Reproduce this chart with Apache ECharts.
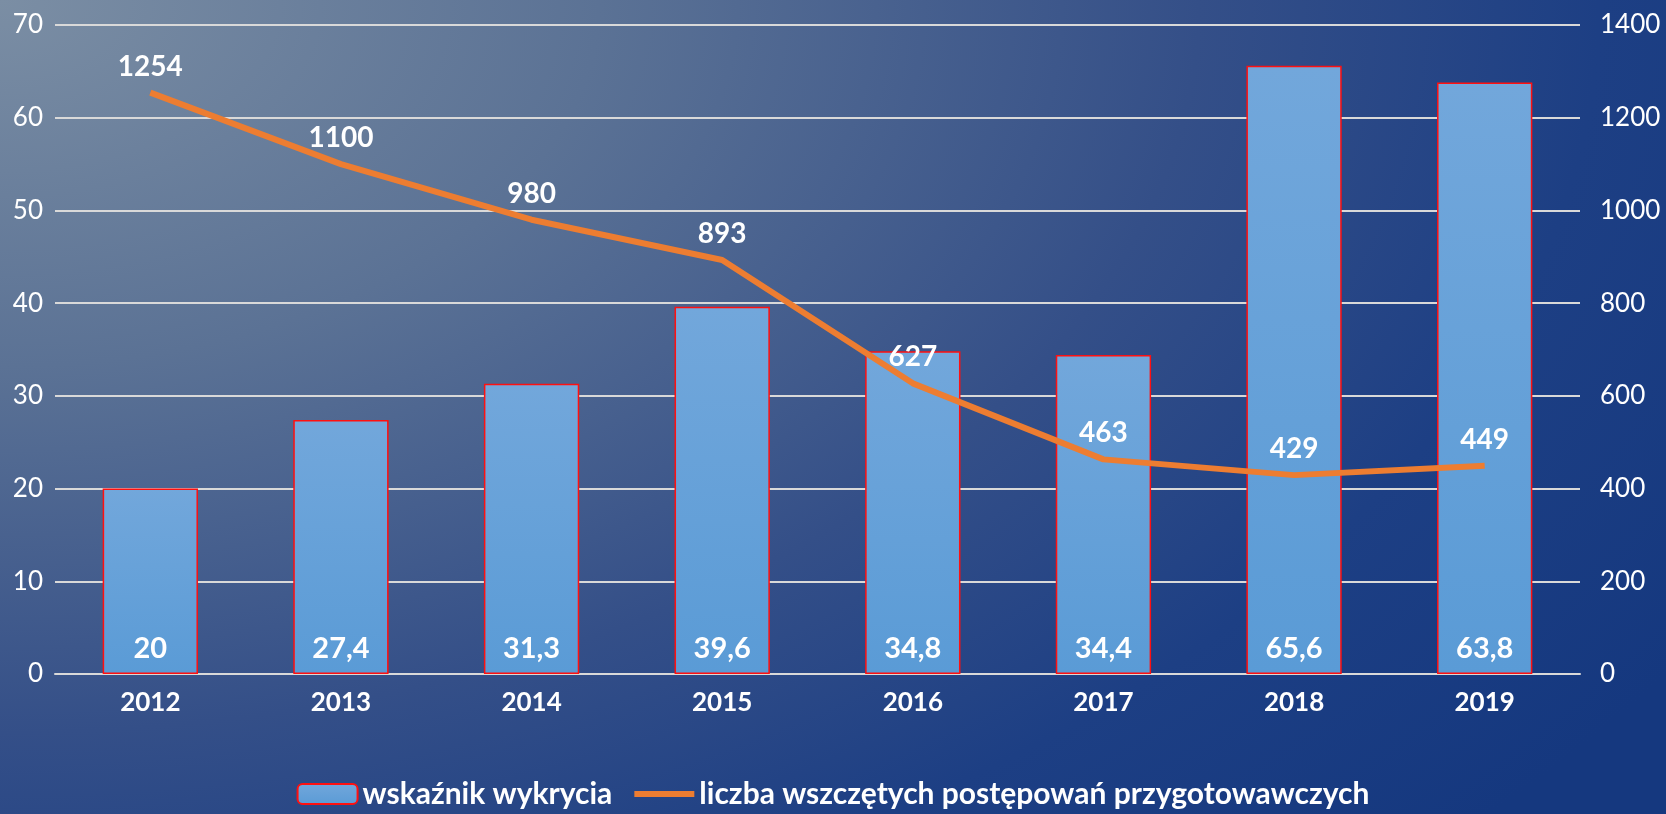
<!DOCTYPE html>
<html><head><meta charset="utf-8">
<script src="https://cdn.jsdelivr.net/npm/echarts@6/dist/echarts.min.js"></script>
<style>
html,body{margin:0;padding:0;width:1666px;height:814px;overflow:hidden;}
body{background:radial-gradient(ellipse 120% 150% at 0% 0%, #7b8ea4 0%, #5b7295 30%, #344f88 60%, #1d3f84 80%, #15387f 100%);}
#c{width:1666px;height:814px;}
</style></head><body><div id="c"></div>
<script>
const categories = ['2012','2013','2014','2015','2016','2017','2018','2019'];
const detectionRate = [20, 27.4, 31.3, 39.6, 34.8, 34.4, 65.6, 63.8];
const proceedings = [1254, 1100, 980, 893, 627, 463, 429, 449];
const leftTicks = {min:0, max:70, interval:10};
const rightTicks = {min:0, max:1400, interval:200};
const seriesNames = ['wskaźnik wykrycia', 'liczba wszczętych postępowań przygotowawczych'];

const FONT = 'Lato';
const chart = echarts.init(document.getElementById('c'), null, {renderer:'canvas'});
const barFill = new echarts.graphic.LinearGradient(0,0,0,1,[{offset:0,color:'#72a7db'},{offset:1,color:'#5a9bd6'}]);
chart.setOption({
  backgroundColor:'transparent',
  animation:false,
  grid:{left:55,right:86,top:25,bottom:140,containLabel:false},
  legend:{
    bottom:0, left:'center', itemWidth:60, itemHeight:20, itemGap:22,
    textStyle:{color:'#fff',fontFamily:FONT,fontWeight:'bold',fontSize:30},
    data:[{name:seriesNames[0]},
          {name:seriesNames[1],icon:'path://M0,0 L60,0 L60,6 L0,6 Z',itemStyle:{color:'#ed7d31'}}]
  },
  xAxis:{
    type:'category', data:categories,
    axisLine:{lineStyle:{color:'#d9d9d9',width:2}},
    axisTick:{show:false},
    axisLabel:{color:'#fff',fontFamily:FONT,fontWeight:'bold',fontSize:26,margin:16}
  },
  yAxis:[
    {type:'value',min:leftTicks.min,max:leftTicks.max,interval:leftTicks.interval,
     axisLine:{show:false},axisTick:{show:false},
     splitLine:{lineStyle:{color:'#d9d9d9',width:2}},
     axisLabel:{color:'#fff',fontFamily:FONT,fontSize:26,margin:12}},
    {type:'value',min:rightTicks.min,max:rightTicks.max,interval:rightTicks.interval,
     axisLine:{show:false},axisTick:{show:false},splitLine:{show:false},
     axisLabel:{color:'#fff',fontFamily:FONT,fontSize:26,margin:20,formatter:v=>String(v)}}
  ],
  series:[
    {name:seriesNames[0],type:'bar',data:detectionRate,barWidth:'50%',yAxisIndex:0,
     itemStyle:{color:barFill,borderColor:'#ff1010',borderWidth:1.5},
     label:{show:true,position:'insideBottom',distance:11,color:'#fff',fontFamily:FONT,fontWeight:'bold',fontSize:29,
       formatter:p=>String(p.value).replace('.',',')}},
    {name:seriesNames[1],type:'line',data:proceedings,yAxisIndex:1,symbol:'circle',symbolSize:0,showSymbol:true,
     lineStyle:{color:'#ed7d31',width:6},itemStyle:{color:'#ed7d31'},
     label:{show:true,position:'top',distance:12,color:'#fff',fontFamily:FONT,fontWeight:'bold',fontSize:28}}
  ]
});
</script></body></html>
